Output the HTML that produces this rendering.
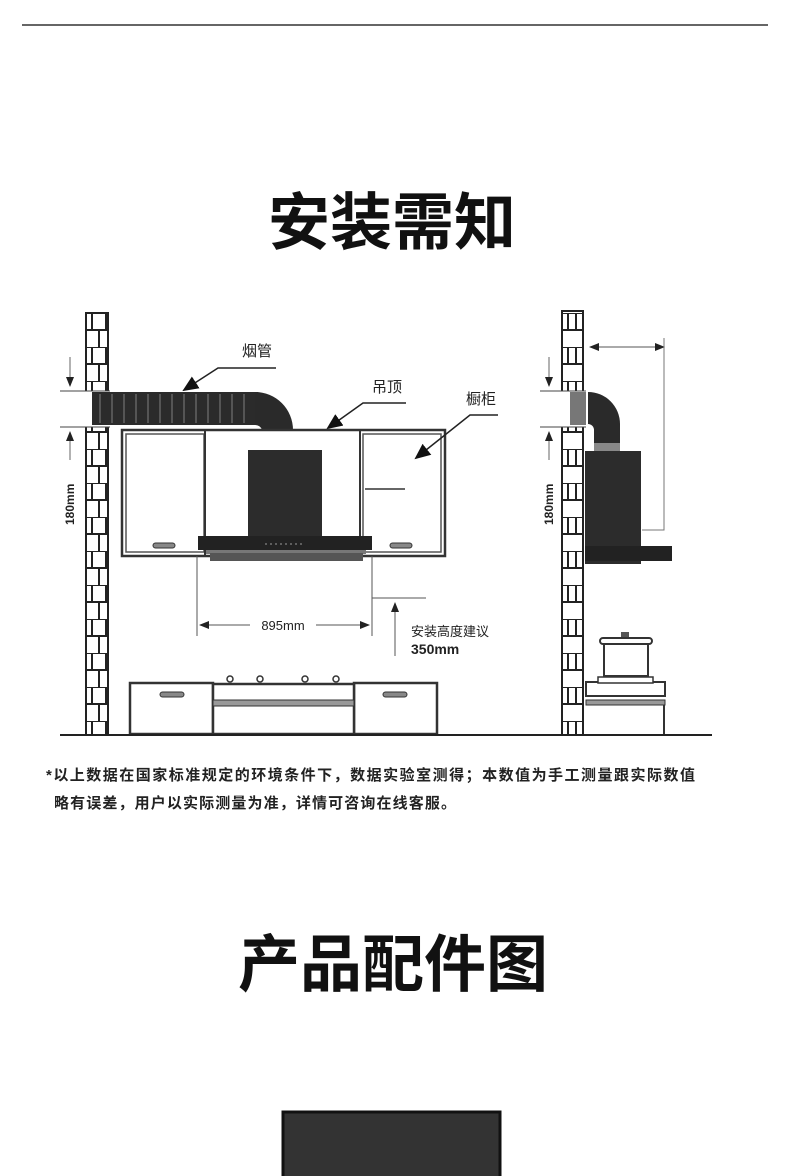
<!DOCTYPE html>
<html><head><meta charset="utf-8"><style>
html,body{margin:0;padding:0;background:#fff}
svg{display:block}
text{font-family:"Liberation Sans","Noto Sans CJK SC",sans-serif}
</style></head><body>
<svg width="790" height="1176" viewBox="0 0 790 1176" xmlns="http://www.w3.org/2000/svg">
<defs>
<pattern id="brick" x="0" y="313" width="22" height="34" patternUnits="userSpaceOnUse">
<rect width="22" height="34" fill="#fff"/>
<path d="M0 0H22M0 17H22M4 0V17M18 0V17M11 17V34" stroke="#222" stroke-width="2" fill="none"/>
</pattern>
<marker id="ah" markerWidth="10" markerHeight="10" refX="9" refY="5" orient="auto" markerUnits="userSpaceOnUse"><path d="M0 1L10 5L0 9Z" fill="#222"/></marker>
<marker id="ahb" markerWidth="16" markerHeight="14" refX="14" refY="7" orient="auto" markerUnits="userSpaceOnUse"><path d="M0 0L16 7L0 14Z" fill="#111"/></marker>
</defs>
<line x1="22" y1="25" x2="768" y2="25" stroke="#333" stroke-width="1.5"/>
<text x="392" y="244" font-size="62" font-weight="bold" text-anchor="middle" fill="#111">安装需知</text>

<rect x="86" y="313" width="22" height="422" fill="url(#brick)" stroke="#222" stroke-width="2"/>
<rect x="84" y="391" width="26" height="36" fill="#fff"/>
<line x1="60" y1="391" x2="110" y2="391" stroke="#444"/>
<line x1="60" y1="427" x2="110" y2="427" stroke="#444"/>
<path d="M70 357V386" stroke="#666" stroke-width="1" marker-end="url(#ah)"/>
<path d="M70 460V432" stroke="#666" stroke-width="1" marker-end="url(#ah)"/>
<text transform="translate(74,525) rotate(-90)" font-size="12" font-weight="bold" fill="#222">180mm</text>
<rect x="92" y="392" width="166" height="33" fill="#2b2b2b"/>
<g stroke="#555" stroke-width="2">
<line x1="100" y1="394" x2="100" y2="423"/><line x1="112" y1="394" x2="112" y2="423"/><line x1="124" y1="394" x2="124" y2="423"/><line x1="136" y1="394" x2="136" y2="423"/><line x1="148" y1="394" x2="148" y2="423"/><line x1="160" y1="394" x2="160" y2="423"/><line x1="172" y1="394" x2="172" y2="423"/><line x1="184" y1="394" x2="184" y2="423"/><line x1="196" y1="394" x2="196" y2="423"/><line x1="208" y1="394" x2="208" y2="423"/><line x1="220" y1="394" x2="220" y2="423"/><line x1="232" y1="394" x2="232" y2="423"/><line x1="244" y1="394" x2="244" y2="423"/></g>
<path d="M255 392A38 38 0 0 1 293 430V445H262V430A7 7 0 0 0 255 425Z" fill="#2a2a2a"/>
<rect x="264" y="440" width="28" height="10" fill="#888"/>
<rect x="122" y="430" width="323" height="126" fill="#fff" stroke="#333" stroke-width="2.5"/>
<rect x="126" y="434" width="78" height="118" fill="none" stroke="#555" stroke-width="1.5"/>
<rect x="363" y="434" width="78" height="118" fill="none" stroke="#555" stroke-width="1.5"/>
<line x1="205" y1="430" x2="205" y2="556" stroke="#333" stroke-width="2"/>
<line x1="360" y1="430" x2="360" y2="556" stroke="#333" stroke-width="2"/>
<line x1="365" y1="489" x2="405" y2="489" stroke="#333" stroke-width="1.5"/>
<rect x="153" y="543" width="22" height="5" rx="2.5" fill="#888" stroke="#333"/>
<rect x="390" y="543" width="22" height="5" rx="2.5" fill="#888" stroke="#333"/>
<rect x="248" y="450" width="74" height="88" fill="#2c2c2c"/>
<rect x="198" y="536" width="174" height="14" fill="#222"/>
<rect x="206" y="550" width="160" height="4" fill="#777"/>
<rect x="210" y="553" width="153" height="8" fill="#555"/>
<g stroke="#999" stroke-width="1"><line x1="265" y1="544" x2="305" y2="544" stroke-dasharray="2 3"/></g>
<text x="242" y="356" font-size="15" fill="#222">烟管</text>
<path d="M276 368H218L184 390" stroke="#222" stroke-width="1.5" fill="none" marker-end="url(#ahb)"/>
<text x="372" y="392" font-size="15" fill="#222">吊顶</text>
<path d="M406 403H363L328 428" stroke="#222" stroke-width="1.5" fill="none" marker-end="url(#ahb)"/>
<text x="466" y="404" font-size="15" fill="#222">橱柜</text>
<path d="M498 415H470L416 458" stroke="#222" stroke-width="1.5" fill="none" marker-end="url(#ahb)"/>
<line x1="197" y1="556" x2="197" y2="636" stroke="#555"/>
<line x1="372" y1="556" x2="372" y2="636" stroke="#555"/>
<line x1="372" y1="598" x2="426" y2="598" stroke="#555"/>
<path d="M250 625H200" stroke="#555" marker-end="url(#ah)"/>
<path d="M316 625H369" stroke="#555" marker-end="url(#ah)"/>
<text x="283" y="630" font-size="13" text-anchor="middle" fill="#222">895mm</text>
<path d="M395 656V603" stroke="#555" marker-end="url(#ah)"/>
<text x="411" y="636" font-size="13" fill="#222">安装高度建议</text>
<text x="411" y="654" font-size="14" font-weight="bold" fill="#222">350mm</text>
<rect x="130" y="683" width="83" height="51" fill="#fff" stroke="#333" stroke-width="2.5"/>
<rect x="354" y="683" width="83" height="51" fill="#fff" stroke="#333" stroke-width="2.5"/>
<rect x="213" y="684" width="141" height="50" fill="#fff" stroke="#333" stroke-width="2.5"/>
<rect x="213" y="700" width="141" height="6" fill="#999" stroke="#333"/>
<rect x="160" y="692" width="24" height="5" rx="2.5" fill="#888" stroke="#333"/>
<rect x="383" y="692" width="24" height="5" rx="2.5" fill="#888" stroke="#333"/>
<g fill="#fff" stroke="#333" stroke-width="1.5"><circle cx="230" cy="679" r="3"/><circle cx="260" cy="679" r="3"/><circle cx="305" cy="679" r="3"/><circle cx="336" cy="679" r="3"/></g>
<line x1="60" y1="735" x2="712" y2="735" stroke="#222" stroke-width="2"/>

<rect x="562" y="311" width="21" height="424" fill="url(#brick)" stroke="#222" stroke-width="2"/>
<rect x="560" y="391" width="26" height="36" fill="#fff"/>
<line x1="540" y1="391" x2="586" y2="391" stroke="#444"/>
<line x1="540" y1="427" x2="586" y2="427" stroke="#444"/>
<path d="M549 357V386" stroke="#666" marker-end="url(#ah)"/>
<path d="M549 460V432" stroke="#666" marker-end="url(#ah)"/>
<text transform="translate(553,525) rotate(-90)" font-size="12" font-weight="bold" fill="#222">180mm</text>
<rect x="570" y="392" width="16" height="33" fill="#777"/>
<path d="M588 392A32 32 0 0 1 620 424V450H594V430A6 6 0 0 0 588 424Z" fill="#2a2a2a"/>
<rect x="594" y="443" width="26" height="8" fill="#888"/>
<rect x="585" y="451" width="56" height="113" fill="#2c2c2c"/>
<rect x="585" y="546" width="87" height="15" fill="#222"/>
<path d="M645 347H590" stroke="#555" marker-end="url(#ah)"/>
<path d="M610 347H664" stroke="#555" marker-end="url(#ah)"/>
<path d="M664 338V530H642" stroke="#777" fill="none"/>
<rect x="586" y="682" width="79" height="14" fill="#fff" stroke="#333" stroke-width="2"/>
<rect x="586" y="700" width="79" height="5" fill="#999" stroke="#333"/>
<line x1="664" y1="705" x2="664" y2="734" stroke="#333" stroke-width="2"/>
<rect x="598" y="677" width="55" height="6" fill="#fff" stroke="#333" stroke-width="1.5"/>
<rect x="604" y="642" width="44" height="34" fill="#fff" stroke="#333" stroke-width="2"/>
<rect x="600" y="638" width="52" height="6" rx="3" fill="#fff" stroke="#333" stroke-width="2"/>
<rect x="621" y="632" width="8" height="5" fill="#555"/>

<text x="46" y="780" font-size="15" font-weight="bold" fill="#222" textLength="649" lengthAdjust="spacing">*以上数据在国家标准规定的环境条件下，数据实验室测得；本数值为手工测量跟实际数值</text>
<text x="54" y="808" font-size="15" font-weight="bold" fill="#222" textLength="402" lengthAdjust="spacing">略有误差，用户以实际测量为准，详情可咨询在线客服。</text>

<text x="393" y="986" font-size="62" font-weight="bold" text-anchor="middle" fill="#111">产品配件图</text>
<rect x="283" y="1112" width="217" height="70" fill="#333" stroke="#111" stroke-width="3"/>
</svg>
</body></html>
